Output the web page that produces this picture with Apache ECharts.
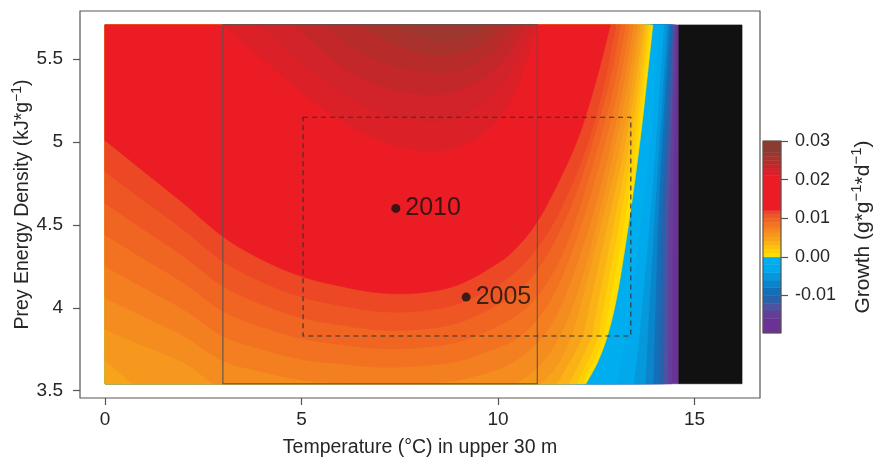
<!DOCTYPE html>
<html><head><meta charset="utf-8">
<script src="https://cdn.jsdelivr.net/npm/echarts@6/dist/echarts.min.js"></script>
<style>html,body{margin:0;padding:0;background:#fff}#c{width:873px;height:463px}</style>
</head><body><div id="c"></div>
<script>
// ---------------- data ----------------
const xTicks = [0, 5, 10, 15];
const yTicks = [3.5, 4, 4.5, 5, 5.5];
const growthTicks = [-0.01, 0, 0.01, 0.02, 0.03];
const fieldT = [0, 16.21];
const fieldE = [3.542, 5.707];
const lethalT = [14.6, 16.21];
const periodBox = [3, 11, 3.542, 5.707];       // Tmin, Tmax, Emin, Emax
const observedBox = [5.04, 13.38, 3.83, 5.15];  // Tmin, Tmax, Emin, Emax
const years = ['2010', '2005'];
const yearTemp = [7.40, 9.19];
const yearEnergy = [4.60, 4.065];

// growth band edges (colour bar) and the colour of each band
const bandEdges = [-0.0197, -0.016, -0.014, -0.012, -0.010, -0.008, -0.006, -0.004, -0.002, 0,
  0.001, 0.002, 0.003, 0.004, 0.005, 0.006, 0.007, 0.008, 0.009, 0.010, 0.011, 0.012,
  0.021, 0.022, 0.023, 0.024, 0.025, 0.026, 0.027, 0.03];
const bandColors = ['#6A3294', '#643E98', '#4F52A1', '#2A61AB', '#126FB8', '#0A84CA', '#0598DB', '#00A9EC', '#00AEEF',
  '#FFDD00', '#FFD006', '#FDC10F', '#FAB216', '#F8A41B', '#F6981D', '#F58C1F', '#F47F20', '#F27221', '#F06522', '#EE5723', '#EC4825',
  '#EB1C24', '#DC2027', '#D12329', '#C4272A', '#B72C2B', '#AA322D', '#9E372E', '#8C3B30'];

// contour lines [temperature, energy density], one array per growth level
const c_m016 = [[0,3.542],[14.43,3.542],[14.45,4.5],[14.49,5.1],[14.53,5.707]];
const c_m014 = [[0,3.542],[14.32,3.542],[14.33,4.5],[14.41,5.1],[14.49,5.707]];
const c_m012 = [[0,3.542],[14.22,3.542],[14.25,4.5],[14.35,5.1],[14.45,5.707]];
const c_m010 = [[0,3.542],[14.1,3.542],[14.12,3.9],[14.16,4.5],[14.28,5.1],[14.41,5.707]];
const c_m008 = [[0,3.542],[13.95,3.542],[13.99,3.9],[14.07,4.5],[14.2,5.1],[14.36,5.707]];
const c_m006 = [[0,3.542],[13.75,3.542],[13.82,3.9],[13.97,4.5],[14.12,5.05],[14.3,5.707]];
const c_m004 = [[0,3.542],[13.45,3.542],[13.6,3.85],[13.85,4.5],[14.03,5.05],[14.22,5.707]];
const c_m002 = [[0,3.542],[13.0,3.542],[13.22,3.8],[13.4,4.1],[13.62,4.5],[13.86,5.0],[14.1,5.707]];
const c_p000 = [[0,3.542],[12.24,3.542],[12.55,3.68],[12.82,3.86],[13.05,4.1],[13.32,4.5],[13.5,4.8],[13.66,5.1],[13.8,5.4],[13.94,5.707]];
const c_p001 = [[0,3.542],[12.15,3.542],[12.64,3.8],[12.81,4.0],[13.2,4.5],[13.59,5.1],[13.89,5.707]];
const c_p002 = [[0,3.542],[12.0,3.542],[12.5,3.8],[12.67,4.0],[13.07,4.5],[13.51,5.1],[13.83,5.707]];
const c_p003 = [[0,3.542],[11.8,3.542],[12.33,3.8],[12.51,4.0],[12.93,4.5],[13.42,5.1],[13.76,5.707]];
const c_p004 = [[0,3.542],[11.5,3.542],[12.1,3.8],[12.31,4.0],[12.78,4.5],[13.32,5.1],[13.7,5.707]];
const c_p005 = [[0,3.68],[0.7,3.542],[11.1,3.542],[11.5,3.65],[11.81,3.8],[12.06,3.98],[12.62,4.5],[13.22,5.1],[13.62,5.707]];
const c_p006 = [[0,3.87],[1,3.77],[2,3.67],[2.75,3.542],[10.45,3.542],[11,3.64],[11.5,3.8],[12,4.08],[12.44,4.45],[12.8,4.8],[13.11,5.13],[13.35,5.43],[13.54,5.707]];
const c_p007 = [[0,4.06],[1,3.945],[2,3.83],[3,3.68],[4,3.615],[5,3.565],[6,3.545],[6.3,3.542],[8,3.542],[9,3.565],[10,3.63],[10.5,3.69],[11,3.79],[11.5,3.96],[12,4.26],[12.5,4.64],[12.98,5.1],[13.24,5.42],[13.45,5.707]];
const c_p008 = [[0,4.25],[1,4.12],[2,3.99],[3,3.83],[4,3.75],[5,3.69],[6,3.662],[7,3.642],[8,3.65],[9,3.68],[10,3.76],[10.5,3.82],[11,3.93],[11.5,4.12],[12,4.42],[12.4,4.72],[12.84,5.1],[13.12,5.4],[13.35,5.707]];
const c_p009 = [[0,4.44],[1,4.295],[2,4.15],[3,3.98],[4,3.885],[5,3.815],[6,3.779],[7,3.754],[8,3.76],[9,3.795],[10,3.89],[10.5,3.96],[11,4.07],[11.5,4.26],[12,4.55],[12.69,5.1],[13.0,5.4],[13.24,5.707]];
const c_p010 = [[0,4.63],[1,4.47],[2,4.31],[3,4.13],[4,4.02],[5,3.94],[6,3.896],[7,3.866],[8,3.87],[9,3.91],[10,4.02],[10.5,4.1],[11,4.23],[11.5,4.43],[12,4.7],[12.53,5.1],[12.85,5.38],[13.12,5.707]];
const c_p011 = [[0,4.82],[1,4.645],[2,4.47],[3,4.28],[4,4.155],[5,4.065],[6,4.013],[7,3.978],[8,3.98],[9,4.025],[10,4.14],[10.5,4.23],[11,4.36],[11.5,4.55],[12,4.81],[12.36,5.05],[12.7,5.35],[13.0,5.707]];
const c_p012 = [[0,5.01],[1,4.82],[2,4.63],[3,4.43],[4,4.29],[5,4.19],[6,4.13],[7,4.09],[8,4.09],[9,4.14],[10,4.27],[10.5,4.37],[11,4.52],[11.5,4.74],[12,5.0],[12.35,5.25],[12.62,5.48],[12.86,5.707]];
const c_p021 = [[3.0,5.707],[4,5.5],[5,5.3],[6,5.13],[7,5.01],[8,4.95],[8.8,4.96],[9.6,5.05],[10.2,5.2],[10.6,5.4],[11.0,5.707]];
const c_p022 = [[3.9,5.707],[5,5.48],[6,5.3],[7,5.18],[8,5.13],[8.8,5.14],[9.6,5.23],[10.2,5.38],[10.6,5.55],[10.9,5.707]];
const c_p023 = [[4.8,5.707],[6,5.46],[7,5.34],[8,5.29],[8.8,5.3],[9.6,5.38],[10.2,5.51],[10.7,5.707]];
const c_p024 = [[5.5,5.707],[6.5,5.54],[7.5,5.45],[8.4,5.42],[9.2,5.45],[9.9,5.55],[10.45,5.707]];
const c_p025 = [[6.5,5.707],[7.3,5.6],[8.2,5.53],[9.0,5.54],[9.7,5.61],[10.15,5.707]];
const c_p026 = [[7.3,5.707],[8,5.64],[8.6,5.61],[9.2,5.63],[9.77,5.707]];

const contourLevels = [-0.016, -0.014, -0.012, -0.010, -0.008, -0.006, -0.004, -0.002, 0,
  0.001, 0.002, 0.003, 0.004, 0.005, 0.006, 0.007, 0.008, 0.009, 0.010, 0.011, 0.012,
  0.021, 0.022, 0.023, 0.024, 0.025, 0.026];
const contourLines = [c_m016, c_m014, c_m012, c_m010, c_m008, c_m006, c_m004, c_m002, c_p000,
  c_p001, c_p002, c_p003, c_p004, c_p005, c_p006, c_p007, c_p008, c_p009, c_p010, c_p011, c_p012,
  c_p021, c_p022, c_p023, c_p024, c_p025, c_p026];

// ---------------- build layers (painter order, lowest first) ----------------
const FONT = "'Liberation Sans', Arial, Helvetica, sans-serif";
const TXT = '#262626';
const FRAME = '#5a5450';
const SUP = {sup: {fontSize: 14, lineHeight: 14, verticalAlign: 'top', fontFamily: FONT, color: TXT}};
const bandOf = v => bandEdges.findIndex(e => Math.abs(e - v) < 1e-9);
const onEdge = p => p[0] <= fieldT[0] + 1e-9 || p[1] <= fieldE[0] + 1e-9 || p[1] >= fieldE[1] - 1e-9;

const layers = [{
  line: [[fieldT[0], fieldE[0]], [lethalT[0], fieldE[0]], [lethalT[0], fieldE[1]], [fieldT[0], fieldE[1]]],
  close: [], color: bandColors[0]
}];
contourLevels.forEach((lv, i) => {
  const line = contourLines[i];
  const first = line[0], last = line[line.length - 1];
  layers.push({line: line, close: [[last[0], fieldE[1]], [first[0], fieldE[1]]], color: bandColors[bandOf(lv)]});
});
layers.push({
  line: [[lethalT[0], fieldE[0]], [lethalT[1], fieldE[0]], [lethalT[1], fieldE[1]], [lethalT[0], fieldE[1]]],
  close: [], color: '#111111'
});

// smooth drawing of a contour line in pixel space (Catmull-Rom, straight at the field edges)
function smoothPixels(line, api) {
  const pix = line.map(p => api.coord(p));
  const edge = line.map(onEdge);
  const out = [pix[0]];
  const n = pix.length;
  for (let i = 0; i < n - 1; i++) {
    const P0 = pix[i - 1] || pix[i], P1 = pix[i], P2 = pix[i + 1], P3 = pix[i + 2] || pix[i + 1];
    if (edge[i] && edge[i + 1]) { out.push(P2); continue; }
    const c1 = edge[i] ? [P1[0] + (P2[0] - P1[0]) / 3, P1[1] + (P2[1] - P1[1]) / 3]
                       : [P1[0] + (P2[0] - P0[0]) / 6, P1[1] + (P2[1] - P0[1]) / 6];
    const c2 = edge[i + 1] ? [P2[0] - (P2[0] - P1[0]) / 3, P2[1] - (P2[1] - P1[1]) / 3]
                           : [P2[0] - (P3[0] - P1[0]) / 6, P2[1] - (P3[1] - P1[1]) / 6];
    const steps = 10;
    for (let s = 1; s <= steps; s++) {
      const t = s / steps, u = 1 - t;
      const a = u * u * u, b = 3 * u * u * t, c = 3 * u * t * t, d = t * t * t;
      out.push([a * P1[0] + b * c1[0] + c * c2[0] + d * P2[0], a * P1[1] + b * c1[1] + c * c2[1] + d * P2[1]]);
    }
  }
  return out;
}

const bands = bandColors.map((c, i) => [0, bandEdges[i], 1, bandEdges[i + 1], i]);

const chart = echarts.init(document.getElementById('c'), null, {renderer: 'canvas'});
chart.setOption({
  animation: false,
  backgroundColor: '#ffffff',
  textStyle: {fontFamily: FONT},
  grid: [
    {left: 80, top: 11, width: 680, height: 387, show: true, borderColor: FRAME, borderWidth: 1.2,
      backgroundColor: 'transparent', containLabel: false, outerBoundsMode: 'none'},
    {left: 763, top: 141, width: 18, height: 192, show: false, containLabel: false, outerBoundsMode: 'none'}
  ],
  xAxis: [
    {gridIndex: 0, type: 'value', min: -0.636, max: 16.667,
      axisLine: {show: false, onZero: false}, splitLine: {show: false},
      axisTick: {show: true, customValues: xTicks, length: 7, lineStyle: {color: FRAME, width: 1.2}},
      axisLabel: {customValues: xTicks, fontSize: 19, color: TXT, margin: 12, fontFamily: FONT},
      name: 'Temperature (°C) in upper 30 m', nameLocation: 'middle', nameGap: 40, nameMoveOverlap: false,
      nameTextStyle: {fontSize: 19.5, color: TXT, fontFamily: FONT}},
    {gridIndex: 1, type: 'value', min: 0, max: 1, show: false, axisLine: {onZero: false}}
  ],
  yAxis: [
    {gridIndex: 0, type: 'value', min: 3.456, max: 5.791,
      axisLine: {show: false, onZero: false}, splitLine: {show: false},
      axisTick: {show: true, customValues: yTicks, length: 7, lineStyle: {color: FRAME, width: 1.2}},
      axisLabel: {customValues: yTicks, fontSize: 19, color: TXT, margin: 17, fontFamily: FONT},
      name: 'Prey Energy Density (kJ*g{sup|−1})', nameLocation: 'middle', nameGap: 44, nameMoveOverlap: false,
      nameTextStyle: {fontSize: 19.5, lineHeight: 26, color: TXT, fontFamily: FONT, rich: SUP}},
    {gridIndex: 1, type: 'value', min: bandEdges[0], max: bandEdges[bandEdges.length - 1], position: 'right',
      axisLine: {show: false, onZero: false}, splitLine: {show: false},
      axisTick: {show: true, customValues: growthTicks, length: 7, lineStyle: {color: FRAME, width: 1.2}},
      axisLabel: {customValues: growthTicks, fontSize: 18, color: TXT, margin: 14, fontFamily: FONT,
        formatter: v => Number(v).toFixed(2)}}
  ],
  graphic: [{
    type: 'text', x: 863, y: 227, rotation: Math.PI / 2,
    style: {text: 'Growth (g*g{sup|−1}*d{sup|−1})', fontSize: 21, lineHeight: 27, fontFamily: FONT, fill: TXT,
      align: 'center', verticalAlign: 'middle', rich: {sup: {fontSize: 15, lineHeight: 15, verticalAlign: 'top', fontFamily: FONT, fill: TXT}}}
  }],
  series: [
    {
      type: 'custom', name: 'growth field', xAxisIndex: 0, yAxisIndex: 0, z: 1,
      data: layers.map(l => [l.line[0][0], l.line[0][1]]),
      renderItem: (params, api) => {
        const l = layers[params.dataIndex];
        const pts = smoothPixels(l.line, api).concat(l.close.map(p => api.coord(p)));
        return {type: 'polygon', shape: {points: pts},
          style: {fill: l.color, stroke: l.color, lineWidth: 0.6}};
      }
    },
    {
      type: 'custom', name: 'boxes', xAxisIndex: 0, yAxisIndex: 0, z: 3,
      data: [periodBox.concat([0]), observedBox.concat([1])],
      renderItem: (params, api) => {
        const p0 = api.coord([api.value(0), api.value(2)]);
        const p1 = api.coord([api.value(1), api.value(3)]);
        const dashed = api.value(4) === 1;
        return {type: 'rect', shape: {x: p0[0], y: p1[1], width: p1[0] - p0[0], height: p0[1] - p1[1]},
          style: {fill: 'none', stroke: dashed ? '#333' : FRAME, lineWidth: 1.1, lineDash: dashed ? [5, 4] : null}};
      }
    },
    {
      type: 'scatter', name: 'years', xAxisIndex: 0, yAxisIndex: 0, z: 4,
      symbolSize: 9, itemStyle: {color: '#111'},
      data: years.map((y, i) => ({name: y, value: [yearTemp[i], yearEnergy[i]]})),
      label: {show: true, position: 'right', distance: 5, formatter: '{b}', fontSize: 25, color: '#111', fontFamily: FONT}
    },
    {
      type: 'custom', name: 'colour bar', xAxisIndex: 1, yAxisIndex: 1, z: 2,
      data: bands,
      renderItem: (params, api) => {
        const a = api.coord([api.value(0), api.value(1)]);
        const b = api.coord([api.value(2), api.value(3)]);
        const c = bandColors[api.value(4)];
        return {type: 'rect', shape: {x: a[0], y: b[1], width: b[0] - a[0], height: a[1] - b[1]},
          style: {fill: c, stroke: c, lineWidth: 0.5}};
      }
    },
    {
      type: 'custom', name: 'colour bar frame', xAxisIndex: 1, yAxisIndex: 1, z: 3,
      data: [[0, bandEdges[0], 1, bandEdges[bandEdges.length - 1]]],
      renderItem: (params, api) => {
        const a = api.coord([api.value(0), api.value(1)]);
        const b = api.coord([api.value(2), api.value(3)]);
        return {type: 'rect', shape: {x: a[0], y: b[1], width: b[0] - a[0], height: a[1] - b[1]},
          style: {fill: 'none', stroke: FRAME, lineWidth: 1.1}};
      }
    }
  ]
});
</script>
</body></html>
